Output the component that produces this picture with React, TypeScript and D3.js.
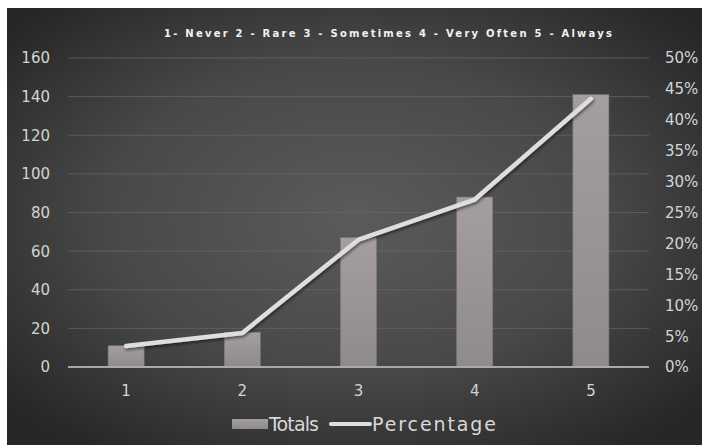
import React from "react";
import * as d3 from "d3";

const categories = ["1", "2", "3", "4", "5"];
const totals = [11, 18, 67, 88, 141];
const percentages = [3.4, 5.5, 20.6, 27.1, 43.4];
const leftTicks = [0, 20, 40, 60, 80, 100, 120, 140, 160];
const rightTicks = [0, 5, 10, 15, 20, 25, 30, 35, 40, 45, 50];
const title = "1- Never 2 - Rare 3 - Sometimes 4 - Very Often 5 - Always";

const W = 702;
const H = 445;
const FONT = "'DejaVu Sans', 'Lato', sans-serif";

export default function App() {
  const plotL = 68, plotR = 649, plotT = 58, plotB = 367;
  const x = d3.scaleBand<string>().domain(categories).range([plotL, plotR]);
  const yL = d3.scaleLinear().domain([0, 160]).range([plotB, plotT]);
  const yR = d3.scaleLinear().domain([0, 50]).range([plotB, plotT]);
  const bw = x.bandwidth() * 0.31;
  const cx = (c: string) => (x(c) as number) + x.bandwidth() / 2;
  const line = d3
    .line<number>()
    .x((_, i) => cx(categories[i]))
    .y((d) => yR(d));

  return (
    <svg
      width={W}
      height={H}
      style={{ position: "absolute", left: 0, top: 0, display: "block" }}
    >
      <defs>
        <radialGradient id="bg" cx="50%" cy="48%" r="65%">
          <stop offset="0%" stopColor="#5b5b5b" />
          <stop offset="55%" stopColor="#484848" />
          <stop offset="100%" stopColor="#272727" />
        </radialGradient>
        <linearGradient id="bar" x1="0" y1="0" x2="0" y2="1">
          <stop offset="0%" stopColor="#a49ea0" />
          <stop offset="100%" stopColor="#8f8a8c" />
        </linearGradient>
        <filter id="shadow" x="-10%" y="-10%" width="120%" height="130%">
          <feDropShadow dx="1" dy="2" stdDeviation="1.5" floodColor="#000" floodOpacity="0.5" />
        </filter>
      </defs>
      <rect x={0} y={0} width={W} height={H} fill="#ffffff" />
      <rect x={7} y={8} width={W - 7} height={H - 8} fill="url(#bg)" />

      <text
        x={164}
        y={37}
        textAnchor="start"
        fill="#f2f2f2"
        fontFamily={FONT}
        fontWeight={700}
        fontSize={10}
        textLength={448}
        lengthAdjust="spacing"
      >
        {title}
      </text>

      {leftTicks.map((t) => (
        <line
          key={"g" + t}
          x1={plotL}
          x2={plotR}
          y1={yL(t)}
          y2={yL(t)}
          stroke="#666666"
          strokeWidth={1}
          opacity={t === 0 ? 0 : 0.75}
        />
      ))}

      {categories.map((c, i) => (
        <rect
          key={"b" + c}
          x={cx(c) - bw / 2}
          y={yL(totals[i])}
          width={bw}
          height={plotB - yL(totals[i])}
          fill="url(#bar)"
          stroke="#7d7879"
          strokeWidth={0.6}
        />
      ))}

      <line x1={plotL} x2={plotR} y1={plotB} y2={plotB} stroke="#a8a8a8" strokeWidth={2} />

      <path
        d={line(percentages) || ""}
        fill="none"
        stroke="#dedede"
        strokeWidth={4.5}
        strokeLinecap="round"
        strokeLinejoin="round"
        filter="url(#shadow)"
      />

      {leftTicks.map((t) => (
        <text
          key={"l" + t}
          x={50}
          y={yL(t)}
          dy="0.36em"
          textAnchor="end"
          fill="#d4d4d4"
          fontFamily={FONT}
          fontSize={15}
        >
          {t}
        </text>
      ))}

      {rightTicks.map((t) => (
        <text
          key={"r" + t}
          x={665}
          y={yR(t)}
          dy="0.36em"
          textAnchor="start"
          fill="#d4d4d4"
          fontFamily={FONT}
          fontSize={15}
        >
          {t + "%"}
        </text>
      ))}

      {categories.map((c) => (
        <text
          key={"x" + c}
          x={cx(c)}
          y={391}
          dy="0.36em"
          textAnchor="middle"
          fill="#d4d4d4"
          fontFamily={FONT}
          fontSize={15}
        >
          {c}
        </text>
      ))}

      <g fontFamily={FONT} fontSize={19} fill="#d8d8d8">
        <rect x={232} y={419} width={36} height={10} fill="url(#bar)" />
        <text x={269} y={424} dy="0.36em" textLength={50} lengthAdjust="spacing">Totals</text>
        <line x1={331} x2={370} y1={424} y2={424} stroke="#dedede" strokeWidth={4} strokeLinecap="round" />
        <text x={372} y={424} dy="0.36em" textLength={124} lengthAdjust="spacing">Percentage</text>
      </g>
    </svg>
  );
}
